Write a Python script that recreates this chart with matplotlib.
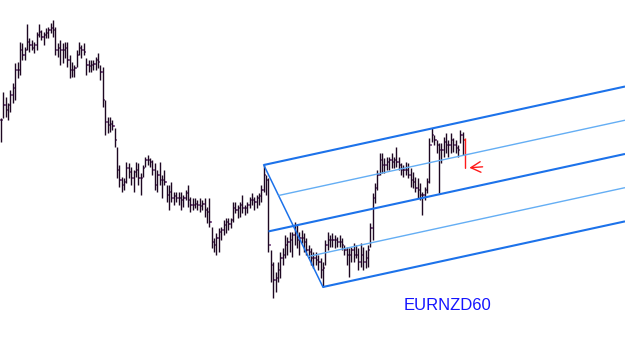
import matplotlib
matplotlib.use("Agg")
import matplotlib.pyplot as plt
import numpy as np

# =========================
# PRICE DATA (EURNZD H1, chart points)
# =========================

high = [
    242, 268, 263, 257, 270, 277, 297, 298, 318, 317,
    313, 336, 322, 320, 318, 328, 336, 330, 328, 332,
    333, 337, 340, 333, 317, 320, 317, 318, 318, 305,
    298, 295, 310, 318, 315, 317, 302, 300, 300, 300,
    303, 307, 295, 293, 260, 243, 243, 240, 232,
    213, 195, 183, 182, 198, 197, 193, 190, 198, 197,
    187, 195, 203, 205, 202, 200, 197, 190, 198, 185,
    190, 175, 175, 178, 168, 168, 168, 168, 165, 170,
    175, 163, 162, 162, 160, 162, 160, 162, 153, 162,
    133, 122, 127, 132, 133, 140, 142, 142, 142, 158,
    158,
    155, 158, 165, 155, 158, 163, 167, 163, 165, 167,
    175, 195, 185, 182, 110, 98, 88, 98, 108, 112,
    125, 123, 128, 128, 138, 135, 128, 130, 127, 122,
    115, 112, 108, 108, 105, 102, 98, 120, 128, 125,
    127, 125, 123, 125, 122, 115, 113, 112, 113, 117,
    115,
    112, 117, 113, 110, 115, 137, 167, 177, 190, 207,
    207, 202, 203, 203, 207, 203, 213, 203, 197, 195,
    198, 197, 192, 188, 183, 182, 177, 168, 173, 182,
    222, 232, 225, 220, 217, 217, 223, 227, 220, 227,
    222, 220, 215, 230, 228, 222,
]

low = [
    218, 242, 243, 240, 248, 257, 260, 282, 285, 300,
    300, 310, 308, 310, 307, 310, 323, 320, 315, 322,
    322, 327, 323, 305, 303, 295, 297, 302, 293, 282,
    283, 283, 293, 305, 302, 305, 285, 288, 288, 290,
    290, 292, 280, 253, 225, 227, 228, 230, 213,
    182, 173, 168, 170, 177, 182, 175, 168, 183, 175,
    165, 183, 193, 195, 193, 185, 170, 168, 175, 162,
    175, 158, 150, 158, 155, 158, 155, 150, 153, 160,
    153, 148, 150, 152, 150, 148, 150, 143, 137, 133,
    112, 108, 105, 108, 120, 125, 127, 130, 132, 138,
    147,
    142, 143, 147, 145, 147, 152, 155, 150, 152, 155,
    158, 168, 165, 108, 78, 62, 68, 78, 82, 95,
    102, 105, 108, 103, 115, 112, 105, 117, 108, 105,
    102, 95, 92, 95, 90, 82, 73, 95, 110, 113,
    113, 112, 113, 113, 110, 105, 95, 83, 98, 98,
    102,
    90, 93, 90, 92, 93, 113, 120, 157, 170, 185,
    187, 187, 190, 190, 192, 192, 193, 190, 185, 183,
    185, 182, 173, 172, 168, 162, 160, 145, 160, 167,
    177, 218, 215, 207, 167, 197, 203, 207, 203, 207,
    208, 207, 203, 217, 205, 192,
]

close = [
    240, 255, 250, 255, 265, 272, 290, 290, 310, 305,
    310, 318, 315, 312, 315, 325, 328, 323, 325, 327,
    330, 332, 330, 310, 312, 310, 310, 312, 300, 290,
    290, 292, 305, 312, 310, 308, 295, 294, 295, 296,
    300, 298, 288, 260, 238, 235, 236, 234, 220,
    190, 180, 175, 178, 192, 188, 182, 188, 190, 182,
    182, 192, 200, 200, 198, 190, 175, 185, 180, 180,
    178, 165, 168, 162, 164, 162, 162, 160, 162, 167,
    160, 155, 155, 156, 155, 154, 156, 150, 148, 138,
    118, 115, 122, 128, 130, 135, 138, 136, 140, 152,
    150,
    152, 155, 152, 152, 155, 160, 160, 158, 162, 164,
    170, 185, 180, 115, 95, 80, 82, 90, 102, 105,
    115, 118, 120, 125, 128, 120, 122, 122, 118, 110,
    108, 102, 102, 100, 98, 90, 92, 115, 120, 120,
    120, 120, 118, 118, 115, 110, 105, 105, 110, 105,
    105,
    98, 105, 98, 102, 110, 132, 162, 172, 185, 200,
    195, 195, 198, 200, 198, 200, 198, 195, 190, 190,
    190, 185, 180, 178, 172, 170, 165, 165, 170, 178,
    215, 225, 220, 215, 210, 210, 218, 215, 215, 220,
    215, 212, 210, 225, 220, 192,
]

symbol_label = "EURNZD60"

# pitchfork anchors: handle, upper pivot, lower pivot
fork_bars = [113, 111, 136]
fork_prices = [128.6, 195, 73]

# =========================
# FIGURE
# =========================

fig = plt.figure(figsize=(6.25, 3.58), dpi=100)
ax = fig.add_axes([0, 0, 1, 1])
ax.set_axis_off()

x_left, x_right = -0.42, 263.6
ax.set_xlim(x_left, x_right)
ax.set_ylim(2, 360)

n = len(close)
idx = np.arange(n)
open_ = [close[0]] + close[:-1]

bar_col = "#1e0822"
tick_col = "#6e3a78"
cols = [bar_col] * (n - 1) + ["#ff1a1a"]
tcols = [tick_col] * (n - 1) + ["#ff1a1a"]

ax.hlines(open_, idx - 0.55, idx, colors=tcols, linewidth=1.1)
ax.hlines(close, idx, idx + 0.55, colors=tcols, linewidth=1.1)
ax.vlines(idx, low, high, colors=cols, linewidth=1.0)

# =========================
# PITCHFORK
# =========================

ax_, bx, cx = fork_bars
ap, bp, cp = fork_prices
mid_x = (bx + cx) / 2
mid_p = (bp + cp) / 2
slope = (mid_p - ap) / (mid_x - ax_)
diag = (cp - bp) / (cx - bx)

main_col = "#1c72ea"
light_col = "#64aef4"


def ray(x0, p0, color, lw):
    ax.plot([x0, x_right], [p0, p0 + (x_right - x0) * slope],
            color=color, linewidth=lw, solid_capstyle="butt")


def on_diag(x0, p0):
    # where a parallel line through (x0, p0) meets the B-C diagonal
    xs = (p0 - bp - slope * x0 + diag * bx) / (diag - slope)
    return xs, bp + (xs - bx) * diag


ax.plot([bx, cx], [bp, cp], color=main_col, linewidth=1.1)
ray(bx, bp, main_col, 1.5)
ray(cx, cp, main_col, 1.5)
ray(ax_, ap, main_col, 1.5)

med_at_b = ap + (bx - ax_) * slope
med_at_c = ap + (cx - ax_) * slope
for x0, p0 in [(bx, (bp + med_at_b) / 2), (cx, (cp + med_at_c) / 2)]:
    xs, ps = on_diag(x0, p0)
    ray(xs, ps, light_col, 1.0)

# current price arrow
ax.annotate("", xy=(n - 1 + 0.7, close[-1]), xytext=(13.5, 1.0),
            textcoords="offset points",
            arrowprops=dict(arrowstyle="->,head_length=0.7,head_width=0.38",
                            color="#ff1a1a", lw=1.0))

fig.text(404 / 625, 1 - 310 / 358, symbol_label, color="#1414ff",
         fontsize=12, family="Liberation Sans", va="baseline")

fig.savefig("out.png", dpi=100, facecolor="white")
